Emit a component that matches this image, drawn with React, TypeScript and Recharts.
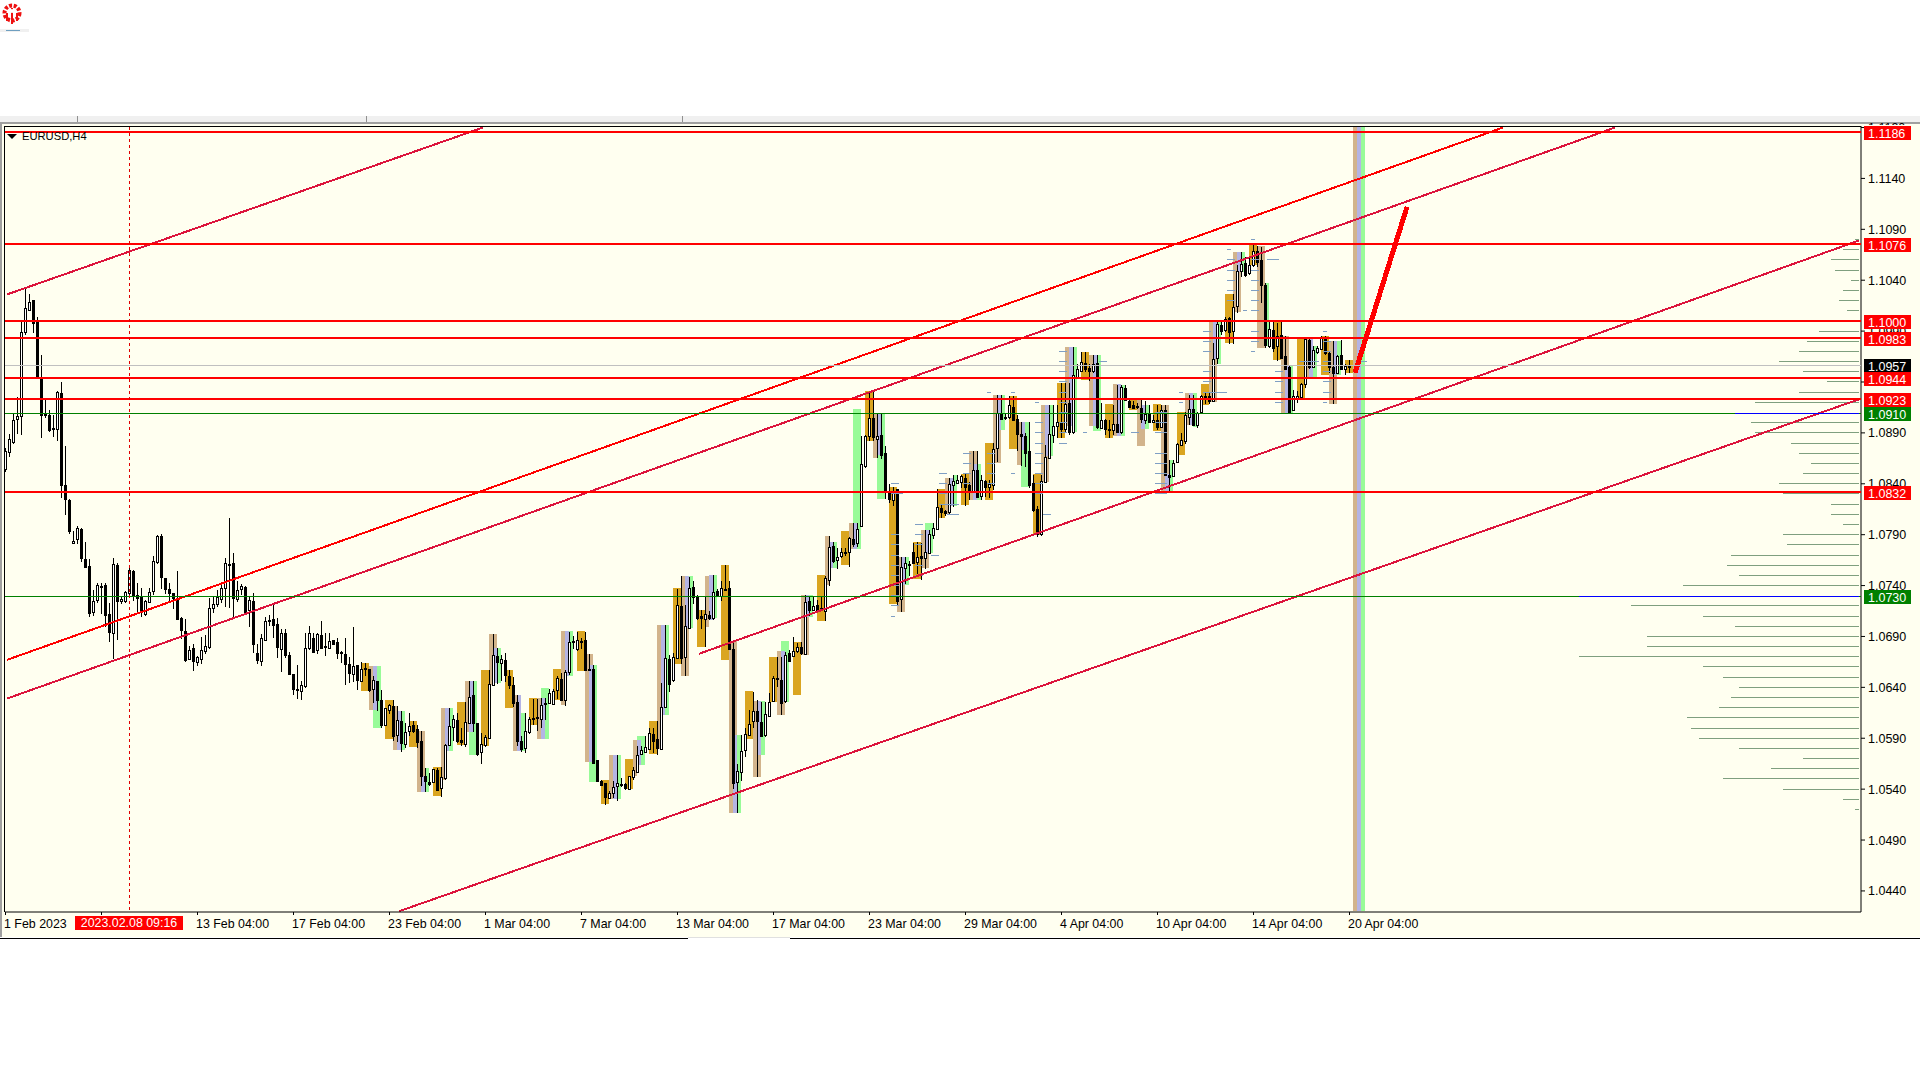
import React from "react";
import { Bar, ComposedChart, ReferenceArea, ReferenceLine, XAxis, YAxis } from "recharts";

// prices are in points: 10957 = 1.0957
const highs = [
  10875,10889,10909,10925,10999,11031,11026,11021,11004,10967,
  10922,10912,10908,10931,10940,10877,10825,10794,10799,10797,
  10783,10766,10736,10743,10743,10743,10723,10767,10762,10729,
  10735,10759,10755,10743,10738,10726,10738,10769,10790,10791,
  10747,10743,10733,10754,10709,10707,10681,10683,10671,10689,
  10691,10728,10729,10736,10743,10767,10806,10772,10744,10742,
  10740,10729,10733,10683,10692,10709,10711,10723,10708,10697,
  10697,10675,10653,10662,10646,10693,10700,10693,10693,10705,
  10693,10693,10687,10688,10676,10688,10670,10699,10662,10665,
  10664,10658,10651,10646,10637,10620,10624,10628,10622,10617,
  10605,10615,10607,10603,10597,10561,10556,10560,10561,10562,
  10584,10620,10613,10615,10600,10626,10646,10646,10605,10595,
  10593,10657,10692,10679,10672,10674,10657,10650,10632,10592,
  10615,10611,10629,10629,10630,10630,10638,10638,10651,10654,
  10657,10694,10690,10694,10688,10694,10673,10662,10569,10549,
  10546,10538,10548,10574,10551,10546,10553,10562,10582,10582,
  10592,10600,10600,10607,10644,10701,10672,10674,10737,10749,
  10721,10748,10744,10731,10716,10729,10715,10750,10737,10744,
  10760,10744,10685,10565,10593,10600,10618,10635,10628,10626,
  10626,10634,10651,10670,10670,10675,10677,10689,10684,10685,
  10731,10729,10729,10726,10729,10749,10789,10783,10777,10777,
  10777,10788,10801,10801,10887,10888,10931,10931,10909,10909,
  10877,10840,10837,10835,10768,10768,10764,10782,10783,10782,
  10795,10795,10801,10835,10820,10814,10846,10849,10849,10849,
  10850,10842,10872,10872,10849,10844,10844,10880,10927,10927,
  10910,10926,10926,10908,10901,10890,10901,10849,10818,10849,
  10878,10917,10917,10917,10939,10939,10939,10974,10958,10969,
  10969,10958,10967,10967,10919,10904,10903,10917,10937,10937,
  10937,10923,10921,10919,10922,10921,10917,10908,10917,10917,
  10917,10863,10863,10880,10890,10911,10927,10927,10911,10927,
  10929,10929,10978,11000,11000,11004,11004,11026,11055,11068,
  11063,11062,11075,11074,11073,11037,11000,11000,10998,11000,
  10985,10957,10932,10931,10939,10983,10983,10975,10975,10985,
  10985,10970,10980,10967,10981,10958,10962,
];

const lows = [
  10851,10866,10880,10889,10888,10986,11011,10989,10945,10885,
  10904,10890,10886,10882,10826,10809,10791,10782,10781,10764,
  10757,10709,10710,10723,10713,10700,10685,10668,10686,10722,
  10723,10728,10725,10713,10710,10710,10723,10731,10762,10737,
  10731,10725,10717,10706,10687,10665,10667,10656,10661,10662,
  10672,10678,10713,10719,10723,10719,10718,10708,10723,10731,
  10713,10700,10674,10663,10661,10685,10700,10689,10669,10655,
  10669,10652,10632,10629,10627,10639,10676,10674,10672,10679,
  10670,10678,10682,10667,10664,10642,10644,10645,10637,10645,
  10651,10635,10624,10617,10600,10602,10614,10588,10587,10577,
  10580,10592,10595,10580,10543,10537,10543,10546,10539,10533,
  10549,10583,10587,10586,10582,10582,10605,10596,10573,10565,
  10581,10589,10641,10644,10646,10646,10638,10621,10582,10576,
  10576,10594,10603,10598,10601,10608,10625,10622,10628,10628,
  10622,10652,10677,10675,10677,10656,10656,10566,10547,10543,
  10524,10530,10531,10529,10542,10539,10539,10549,10556,10574,
  10575,10578,10575,10574,10578,10620,10636,10646,10668,10663,
  10651,10697,10721,10706,10697,10680,10706,10706,10729,10724,
  10734,10677,10541,10517,10548,10572,10592,10600,10552,10592,
  10592,10610,10625,10641,10613,10625,10665,10670,10674,10672,
  10672,10710,10715,10715,10715,10705,10740,10762,10756,10767,
  10769,10759,10777,10777,10798,10856,10882,10882,10866,10865,
  10825,10821,10818,10721,10714,10741,10749,10761,10752,10746,
  10757,10772,10785,10795,10806,10808,10811,10818,10841,10836,
  10819,10824,10832,10827,10824,10827,10826,10834,10861,10903,
  10903,10903,10901,10873,10858,10857,10836,10813,10788,10789,
  10841,10864,10880,10885,10885,10891,10888,10889,10944,10950,
  10949,10941,10949,10894,10894,10888,10885,10888,10890,10889,
  10921,10914,10913,10913,10899,10898,10899,10900,10892,10895,
  10847,10832,10847,10860,10877,10880,10898,10897,10895,10909,
  10918,10918,10920,10958,10986,10989,10977,10977,11008,11043,
  11043,11045,11053,11053,11018,10973,10973,10970,10961,10963,
  10952,10909,10911,10919,10924,10934,10953,10953,10967,10971,
  10966,10948,10918,10948,10952,10947,10949,
];

const opens = [
  10855,10871,10881,10904,10907,10989,11011,11021,10999,10945,
  10909,10908,10895,10894,10929,10839,10824,10782,10786,10796,
  10766,10759,10714,10726,10739,10741,10712,10693,10760,10725,
  10725,10733,10754,10731,10729,10712,10724,10735,10763,10789,
  10747,10737,10733,10728,10708,10695,10668,10679,10665,10668,
  10676,10680,10718,10722,10727,10738,10760,10762,10727,10737,
  10739,10716,10725,10674,10666,10687,10705,10707,10702,10678,
  10693,10672,10653,10638,10636,10641,10679,10688,10677,10691,
  10680,10679,10687,10685,10675,10673,10663,10653,10662,10646,
  10658,10658,10638,10646,10628,10603,10618,10622,10593,10607,
  10584,10597,10603,10599,10587,10553,10547,10547,10559,10541,
  10551,10583,10601,10608,10588,10584,10605,10632,10605,10576,
  10583,10590,10642,10671,10664,10667,10651,10642,10626,10587,
  10580,10596,10609,10610,10609,10624,10625,10624,10637,10648,
  10628,10655,10685,10678,10685,10687,10658,10658,10569,10548,
  10546,10531,10536,10543,10544,10545,10540,10552,10557,10575,
  10576,10579,10594,10589,10579,10621,10668,10647,10669,10720,
  10670,10698,10739,10729,10710,10707,10711,10708,10735,10730,
  10736,10738,10678,10547,10557,10578,10593,10607,10617,10606,
  10593,10612,10627,10648,10647,10627,10674,10671,10676,10680,
  10673,10725,10716,10721,10717,10715,10745,10779,10765,10769,
  10773,10773,10786,10782,10799,10857,10887,10905,10884,10888,
  10870,10831,10824,10835,10727,10757,10761,10773,10763,10769,
  10767,10772,10790,10796,10816,10813,10812,10839,10841,10842,
  10846,10839,10833,10854,10828,10843,10837,10839,10875,10909,
  10905,10906,10915,10904,10889,10887,10872,10841,10815,10791,
  10842,10865,10888,10897,10901,10894,10919,10891,10945,10951,
  10959,10954,10951,10959,10895,10903,10893,10893,10899,10891,
  10934,10921,10917,10916,10914,10903,10909,10901,10903,10896,
  10912,10849,10848,10861,10878,10882,10906,10913,10898,10911,
  10926,10926,10921,10964,10996,10991,11003,10990,11015,11049,
  11057,11047,11055,11069,11060,11035,10975,10991,10975,10986,
  10966,10955,10912,10924,10925,10938,10981,10955,10969,10972,
  10983,10968,10955,10949,10967,10953,10957,
];

const closes = [
  10872,10884,10903,10907,10989,11013,11019,10998,10945,10908,
  10908,10893,10894,10930,10839,10825,10794,10784,10797,10767,
  10758,10713,10725,10741,10740,10711,10694,10761,10725,10727,
  10734,10755,10731,10728,10714,10725,10734,10764,10789,10748,
  10737,10733,10728,10707,10696,10667,10677,10666,10670,10677,
  10681,10718,10722,10729,10738,10762,10761,10728,10736,10740,
  10714,10726,10683,10667,10688,10705,10706,10701,10680,10693,
  10672,10653,10638,10637,10642,10679,10693,10675,10692,10679,
  10681,10686,10683,10674,10674,10663,10654,10661,10647,10658,
  10659,10637,10647,10628,10603,10620,10623,10592,10608,10585,
  10596,10602,10597,10586,10553,10548,10545,10560,10539,10552,
  10583,10602,10609,10587,10586,10606,10631,10605,10575,10584,
  10591,10643,10672,10665,10668,10652,10642,10625,10587,10579,
  10597,10609,10610,10611,10623,10625,10634,10636,10649,10628,
  10655,10685,10686,10687,10686,10657,10657,10566,10548,10544,
  10532,10536,10542,10546,10545,10541,10553,10559,10574,10578,
  10581,10595,10587,10580,10621,10669,10643,10670,10721,10669,
  10700,10738,10729,10708,10708,10712,10708,10734,10731,10738,
  10737,10678,10546,10558,10577,10594,10604,10617,10607,10592,
  10614,10626,10649,10649,10625,10672,10666,10676,10680,10674,
  10724,10716,10720,10716,10718,10747,10778,10764,10768,10773,
  10772,10787,10781,10796,10859,10887,10905,10886,10887,10868,
  10832,10825,10831,10725,10758,10762,10761,10762,10768,10767,
  10773,10791,10797,10817,10812,10811,10840,10843,10844,10848,
  10837,10832,10854,10827,10844,10837,10840,10874,10910,10904,
  10906,10917,10903,10889,10887,10870,10839,10814,10791,10843,
  10866,10889,10897,10901,10894,10918,10891,10947,10953,10960,
  10953,10951,10958,10896,10903,10894,10894,10899,10891,10935,
  10922,10915,10914,10916,10904,10909,10901,10903,10896,10912,
  10849,10847,10860,10879,10883,10908,10913,10898,10910,10926,
  10925,10921,10963,10997,10990,11002,10989,11014,11049,11056,
  11045,11055,11069,11058,11035,10976,10992,10973,10985,10964,
  10953,10910,10926,10926,10938,10982,10955,10971,10973,10984,
  10968,10955,10949,10966,10953,10956,10955,
];

// shaded boxes: first bar, last bar, top price, bottom price
const tanZones = [
  [91,91,10661,10618],[97,97,10622,10578],[103,103,10597,10537],[104,104,10597,10553],
  [109,109,10620,10549],[115,115,10646,10596],[121,121,10692,10642],[122,122,10692,10679],
  [127,127,10632,10577],[133,133,10630,10589],[139,139,10695,10623],[145,146,10673,10567],
  [151,151,10574,10530],[157,157,10588,10553],[163,163,10701,10579],[169,169,10749,10651],
  [170,170,10698,10651],[175,175,10749,10699],[181,181,10686,10517],[182,182,10686,10593],
  [187,187,10627,10552],[188,188,10574,10552],[193,193,10676,10613],[194,194,10626,10613],
  [199,199,10731,10672],[200,200,10709,10672],[205,205,10789,10741],[211,211,10801,10776],
  [217,217,10909,10865],[223,223,10768,10714],[224,224,10741,10714],[229,229,10795,10757],
  [230,230,10772,10757],[235,235,10846,10810],[241,241,10872,10824],[242,242,10872,10859],
  [247,247,10927,10860],[248,248,10893,10860],[253,253,10901,10858],[259,259,10917,10842],
  [260,260,10867,10842],[265,265,10974,10897],[271,271,10967,10897],[277,277,10938,10887],
  [283,283,10922,10877],[284,284,10894,10877],[289,289,10917,10833],[290,290,10917,10850],
  [295,295,10929,10898],[301,301,11000,10920],[302,302,10963,10920],[307,307,11068,11009],
  [308,308,11048,11009],[313,314,11074,10973],[319,319,10985,10909],[320,320,10985,10956],
  [325,325,10983,10945],[331,331,10980,10918],[332,332,10947,10918],[337,337,11191,10420],
];

const lavenderZones = [
  [92,92,10661,10618],[98,98,10617,10578],[104,104,10553,10537],[110,110,10620,10577],
  [116,116,10646,10596],[122,122,10679,10644],[128,128,10632,10577],[134,134,10630,10589],
  [140,140,10695,10651],[146,146,10662,10567],[152,152,10574,10530],[158,158,10588,10564],
  [164,164,10701,10613],[170,170,10749,10698],[176,176,10750,10706],[182,182,10593,10517],
  [188,188,10627,10574],[194,194,10676,10626],[200,200,10731,10709],[206,206,10783,10757],
  [212,212,10801,10776],[218,218,10909,10868],[224,224,10768,10741],[230,230,10795,10772],
  [236,236,10846,10818],[242,242,10859,10824],[248,248,10927,10893],[254,254,10901,10873],
  [260,260,10917,10867],[266,266,10974,10897],[272,272,10967,10897],[278,278,10938,10887],
  [284,284,10917,10894],[290,290,10850,10833],[296,296,10929,10898],[302,302,11000,10963],
  [308,308,11068,11048],[320,320,10956,10909],[326,326,10983,10945],[332,332,10980,10947],
  [338,338,11191,10420],
];

const greenZones = [
  [92,92,10618,10600],[93,93,10661,10600],[99,99,10617,10578],[105,105,10561,10537],
  [111,111,10620,10577],[116,116,10596,10574],[117,117,10646,10574],[123,123,10679,10644],
  [129,129,10615,10577],[134,134,10639,10630],[135,135,10639,10589],[141,141,10695,10651],
  [146,146,10567,10547],[147,147,10662,10547],[153,153,10574,10530],[158,158,10592,10588],
  [159,159,10592,10564],[165,165,10701,10613],[171,171,10749,10698],[177,177,10750,10708],
  [183,183,10593,10517],[189,189,10627,10574],[194,194,10686,10676],[195,195,10686,10626],
  [201,201,10731,10709],[207,207,10783,10757],[212,213,10913,10801],[213,213,10801,10776],
  [218,218,10868,10825],[219,219,10909,10825],[225,225,10768,10741],[230,230,10801,10795],
  [231,231,10801,10772],[237,237,10849,10818],[243,243,10859,10824],[249,249,10927,10893],
  [254,254,10873,10837],[255,255,10901,10837],[261,261,10917,10867],[267,267,10974,10891],
  [272,272,10897,10892],[273,273,10967,10892],[279,279,10937,10887],[285,285,10917,10894],
  [291,291,10863,10833],[297,297,10929,10896],[303,303,11000,10958],[309,309,11068,11048],
  [315,315,11037,10975],[321,321,10956,10909],[327,327,10975,10945],[333,333,10980,10947],
  [339,339,11191,10420],
];

const goldZones = [
  [89,90,10664,10636],[95,96,10628,10589],[101,102,10607,10581],[107,108,10562,10533],
  [113,114,10626,10583],[119,120,10657,10582],[125,126,10657,10620],[131,132,10630,10603],
  [137,138,10658,10628],[143,144,10695,10656],[149,150,10549,10525],[155,156,10570,10540],
  [161,162,10607,10575],[167,168,10738,10663],[173,174,10716,10680],[179,180,10760,10667],
  [185,186,10636,10589],[191,192,10670,10626],[197,198,10685,10632],[203,204,10750,10705],
  [209,210,10794,10760],[215,216,10931,10882],[221,222,10837,10722],[227,228,10783,10746],
  [233,234,10835,10806],[239,240,10850,10819],[245,246,10880,10824],[251,252,10926,10874],
  [257,258,10850,10790],[263,264,10939,10885],[269,270,10969,10942],[275,276,10918,10885],
  [281,282,10922,10912],[287,288,10918,10892],[293,294,10911,10868],[299,300,10938,10917],
  [305,306,11026,10978],[311,312,11075,11055],[317,318,11000,10962],[323,324,10983,10924],
  [329,330,10985,10947],[335,336,10962,10949],
];

// small level marks: first bar, last bar, prices
const levelMarks: [number, number, number[]][] = [
  [221,223,[10840,10790,10780,10770,10760,10750,10740,10730,10720]],
  [221,224,[10830]],[221,222,[10710]],
  [227,229,[10800,10790,10780,10760,10750]],[231,233,[10770]],
  [233,235,[10850,10840,10830,10820]],[235,238,[10820,10810]],
  [239,241,[10870,10860,10850,10840]],[245,247,[10870,10860,10850,10840]],
  [245,246,[10930]],[251,252,[10930,10850]],
  [257,259,[10900,10890,10880,10870,10860,10850,10840,10830]],[257,258,[10920]],[259,261,[10810]],
  [263,265,[10970,10960,10950,10940,10930,10920,10910,10900,10890,10880]],
  [269,270,[10890]],[273,275,[10960]],[281,283,[10890]],
  [287,290,[10910,10900,10890,10870,10860,10850,10840,10830]],
  [293,294,[10930,10920]],[299,301,[10990,10980,10970,10950,10940]],[299,305,[10930]],
  [305,307,[11060,11050,11040,11030,11020]],[305,306,[11070]],[309,310,[11010]],
  [311,313,[11060,11050,11040,11030,11020,11010,11000,10990,10980]],[311,312,[11080,10970]],
  [315,318,[11060]],[317,319,[10950,10940,10930,10920]],[323,328,[10960]],
  [329,331,[10980,10970,10960,10950,10940,10930]],[329,330,[10990,10920]],[337,340,[10960]],
];

// volume profile down the right edge, length counted in bars
const profilePrices = [
  11080,11070,11060,11050,11040,11030,11020,11010,10990,10980,10970,10960,10950,10940,10930,10920,
  10900,10890,10880,10870,10860,10850,10840,10830,10820,10810,10800,10790,10780,10770,10760,10750,
  10740,10720,10710,10700,10690,10680,10670,10660,10650,10640,10630,10620,10610,10600,10590,10580,
  10570,10560,10550,10540,10530,10520,
];
const profileLengths = [
  1,4,7,6,2,4,5,3,10,13,15,20,14,8,15,26,
  27,26,17,15,12,14,20,19,7,7,4,19,18,32,33,30,
  44,57,39,31,53,53,70,39,34,30,32,35,43,42,40,30,
  14,22,34,19,4,1,
];
const profilePeaks = [[10910, 31], [10730, 70]];

// [bar, price] at each end
const crimsonLines = [
  [[0, 11026], [119, 11190]],
  [[0, 10629], [402, 11190]],
  [[173, 10673], [463, 11079]],
  [[98, 10420], [463, 10923]],
];
const redChannel = [[0, 10667], [374, 11190]];
const arrowLine = [[337, 10949], [350, 11112]];

const redLevels = [11186, 11076, 11000, 10983, 10944, 10923, 10832];
const greenLevels = [10910, 10730];
const lastPrice = 10957;

const priceTicks = [
  11190,11140,11090,11040,10990,10940,10890,10840,10790,10740,10690,10640,10590,10540,10490,10440,
];
// tick labels that the price tags partly cover: the strip of each that stays visible
const tickStrips: Record<number, [number, number]> = {
  11190: [118, 125],
  10990: [329, 332],
  10940: [386, 392],
  10840: [472, 486],
  10740: [574, 590],
};
const timeTicks = [0,24,48,72,96,120,144,168,192,216,240,264,288,312,336];
// the tick at bar 24 carries no text: the crosshair's date box sits over it
const timeLabels = [
  "1 Feb 2023","","13 Feb 04:00","17 Feb 04:00","23 Feb 04:00",
  "1 Mar 04:00","7 Mar 04:00","13 Mar 04:00","17 Mar 04:00","23 Mar 04:00",
  "29 Mar 04:00","4 Apr 04:00","10 Apr 04:00","14 Apr 04:00","20 Apr 04:00",
];
const crosshairBar = 31;
const crosshairLabel = "2023.02.08 09:16";

const BAR_SLOTS = 464;
const AXIS_FONT = "'Liberation Sans', Arial, sans-serif";

const rows = Array.from({ length: BAR_SLOTS }, (_, i) => ({
  bar: i,
  open: opens[i],
  close: closes[i],
  high: highs[i],
  low: lows[i],
  range: i < highs.length ? [lows[i], highs[i]] : null,
}));

const fmt = (v: number) => (v / 10000).toFixed(4);

const Candle = (props: any) => {
  const { x, y, height, payload } = props;
  if (!payload || payload.open == null) return null;
  const { open, close, high, low } = payload;
  const yOf = (v: number) => y + ((high - v) / (high - low || 1)) * height;
  const top = Math.round(yOf(Math.max(open, close)));
  const bottom = Math.round(yOf(Math.min(open, close)));
  const h = Math.max(bottom - top, 1);
  const bull = close >= open;
  return (
    <g shapeRendering="crispEdges">
      <rect x={x} y={Math.round(y)} width={1} height={Math.max(Math.round(height), 1)} fill="#000" />
      <rect x={x - 1} y={top} width={3} height={h + 1} fill="#000" />
      {bull && h > 1 && <rect x={x} y={top + 1} width={1} height={h - 1} fill="#fff" />}
    </g>
  );
};

const priceTag = (value: number, color: string, bg: string) => (props: any) => {
  const y = Math.round(props.y1);
  const thick = color === "#ff0000";
  const lineY = thick ? y : y + 0.5;
  return (
    <g>
      <line x1={props.x1} y1={lineY} x2={props.x2} y2={lineY} stroke={color} strokeWidth={thick ? 2 : 1} shapeRendering="crispEdges" />
      <rect x={1864} y={y - 6} width={47} height={14} fill={bg} />
      <text x={1868} y={y + 6} fill="#fff" fontFamily={AXIS_FONT} fontSize={12.5}>{fmt(value)}</text>
    </g>
  );
};

// blue stretch of a green level: same pixel row as the level itself
const PeakLine = (props: any) => {
  const y = Math.round(props.y1) + 0.5;
  return <line x1={props.x1} y1={y} x2={props.x2} y2={y} stroke="#0000ff" shapeRendering="crispEdges" />;
};

const CrosshairLine = (props: any) => (
  <g>
    <line x1={props.x1 + 0.5} y1={127} x2={props.x2 + 0.5} y2={910} stroke="#e00000" strokeDasharray="3 3" shapeRendering="crispEdges" />
    <rect x={75} y={916} width={108} height={14} fill="#ff0000" />
    <text x={129} y={927} fill="#fff" textAnchor="middle" fontFamily={AXIS_FONT} fontSize={12.4}>{crosshairLabel}</text>
  </g>
);

const TimeTick = (props: any) => {
  const { x, payload } = props;
  const left = x - 2;
  const label = timeLabels[timeTicks.indexOf(payload.value)];
  return (
    <g>
      <line x1={left + 0.5} y1={912} x2={left + 0.5} y2={915} stroke="#000" />
      {label && (
        <text x={left - 1} y={928} fontFamily={AXIS_FONT} fontSize={12.4} fill="#000">{label}</text>
      )}
    </g>
  );
};

const PriceTick = (props: any) => {
  const { x, y, payload } = props;
  const label = (
    <text fontFamily={AXIS_FONT} fontSize={12.5} fill="#000" x={0} y={0}>{fmt(payload.value)}</text>
  );
  const strip = tickStrips[payload.value];
  if (!strip) {
    return <text x={x} y={y + 4.5} fontFamily={AXIS_FONT} fontSize={12.5} fill="#000">{fmt(payload.value)}</text>;
  }
  // nested svg clips away the part of the label a tag would cover
  return (
    <svg x={x} y={strip[0]} width={50} height={strip[1] - strip[0]} overflow="hidden">
      <g transform={`translate(0 ${y + 4.5 - strip[0]})`}>{label}</g>
    </svg>
  );
};

const zoneAreas = (zones: number[][], fill: string) =>
  zones.map(([a, b, top, bottom], k) => (
    <ReferenceArea
      key={fill + k}
      x1={a}
      x2={b}
      y1={bottom}
      y2={top}
      fill={fill}
      fillOpacity={1}
      stroke="none"
      shapeRendering="crispEdges"
      ifOverflow="visible"
    />
  ));

const segLine = (seg: number[][], stroke: string, width: number, key: string) => (
  <ReferenceLine
    key={key}
    segment={[{ x: seg[0][0], y: seg[0][1] }, { x: seg[1][0], y: seg[1][1] }]}
    stroke={stroke}
    strokeWidth={width}
    shapeRendering="crispEdges"
    ifOverflow="visible"
    zIndex={450}
  />
);

const abs = (left: number, top: number, width: number, height: number, background: string): React.CSSProperties => ({
  position: "absolute",
  left,
  top,
  width,
  height,
  background,
});

const Logo = () => (
  <svg width={24} height={28} viewBox="0 0 24 28" style={{ position: "absolute", left: 0, top: 2 }}>
    <circle cx={12} cy={11} r={7.5} fill="none" stroke="#ee1111" strokeWidth={4} strokeDasharray="3 1.6" />
    <path d="M12 6v16M7 11v8M17 11v8" stroke="#ee1111" strokeWidth={2} fill="none" />
    <circle cx={12} cy={9} r={2} fill="#fff" />
  </svg>
);

export default function App() {
  return (
    <div style={{ ...abs(0, 0, 1920, 1080, "#fff"), overflow: "hidden" }}>
      <Logo />
      <div style={abs(0, 29, 29, 3, "#f0f0f0")} />
      <div style={abs(6, 30, 14, 1, "#6f9fc0")} />
      <div style={abs(0, 116, 1920, 6, "#f0f0f0")} />
      <div style={abs(0, 122, 1920, 2, "#a0a0a0")} />
      <div style={abs(77, 116, 1, 6, "#909090")} />
      <div style={abs(366, 116, 1, 6, "#909090")} />
      <div style={abs(682, 116, 1, 6, "#909090")} />
      <div style={abs(0, 124, 2, 813, "#a0a0a0")} />
      <div style={abs(2, 124, 1918, 813, "#fffff0")} />
      <div style={{ ...abs(4, 126, 1857, 786, "transparent"), borderLeft: "1px solid #000", borderTop: "1px solid #000", boxSizing: "border-box" }} />
      <div style={abs(0, 938, 688, 1, "#000")} />
      <div style={abs(688, 937, 102, 1, "#e0e0e0")} />
      <div style={abs(790, 938, 1130, 1, "#000")} />
      <div style={{ position: "absolute", left: 0, top: 0 }}>
        <ComposedChart
          width={1920}
          height={940}
          data={rows}
          margin={{ top: 126, right: 0, bottom: 0, left: 5 }}
          barCategoryGap={0}
          barGap={0}
        >
          <XAxis
            dataKey="bar"
            type="category"
            height={28}
            ticks={timeTicks}
            interval={0}
            tick={<TimeTick />}
            tickLine={false}
            axisLine={{ stroke: "#000" }}
          />
          <YAxis
            orientation="right"
            type="number"
            width={59}
            domain={[10419.3, 11191.5]}
            ticks={priceTicks}
            interval={0}
            allowDataOverflow
            tickSize={4}
            tickMargin={3}
            tick={<PriceTick />}
            tickLine={{ stroke: "#000" }}
            axisLine={{ stroke: "#000" }}
          />
          {zoneAreas(tanZones, "#d2b48c")}
          {zoneAreas(lavenderZones, "#b4b4e4")}
          {zoneAreas(greenZones, "#98fb98")}
          {zoneAreas(goldZones, "#daa520")}
          {levelMarks.flatMap(([a, b, prices], k) =>
            prices.map((p) => segLine([[a, p], [b, p]], "#7f9fc4", 1, `m${k}-${p}`))
          )}
          <Bar dataKey="range" shape={<Candle />} isAnimationActive={false} />
          {profilePrices.map((p, k) => segLine([[463 - profileLengths[k], p], [463, p]], "#7f9f7f", 1, `p${p}`))}
          <ReferenceLine y={lastPrice} shape={priceTag(lastPrice, "#c0c0c0", "#000")} ifOverflow="visible" zIndex={600} />
          {greenLevels.map((p) => (
            <ReferenceLine key={p} y={p} shape={priceTag(p, "#008000", "#008000")} ifOverflow="visible" zIndex={600} />
          ))}
          {profilePeaks.map(([p, len]) => (
            <ReferenceLine
              key={`peak${p}`}
              segment={[{ x: 463 - len, y: p }, { x: 463, y: p }]}
              shape={PeakLine}
              ifOverflow="visible"
              zIndex={610}
            />
          ))}
          {crimsonLines.map((seg, k) => segLine(seg, "#dc143c", 2, `c${k}`))}
          {segLine(redChannel, "#ff0000", 2, "redChannel")}
          {redLevels.map((p) => (
            <ReferenceLine key={p} y={p} shape={priceTag(p, "#ff0000", "#ff0000")} ifOverflow="visible" zIndex={620} />
          ))}
          {segLine(arrowLine, "#ff0000", 5, "arrow")}
          <ReferenceLine x={crosshairBar} position="start" shape={CrosshairLine} ifOverflow="visible" zIndex={620} />
        </ComposedChart>
      </div>
      <svg width={12} height={8} style={{ position: "absolute", left: 7, top: 133 }}>
        <path d="M0 1h10L5 6z" fill="#000" />
      </svg>
      <div style={{ position: "absolute", left: 22, top: 129, fontFamily: AXIS_FONT, fontSize: 11.2, lineHeight: "14px", color: "#000" }}>
        EURUSD,H4
      </div>
    </div>
  );
}
